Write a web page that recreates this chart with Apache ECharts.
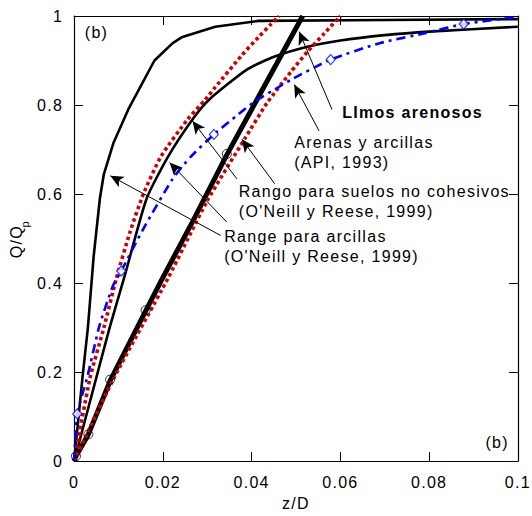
<!DOCTYPE html>
<html><head><meta charset="utf-8">
<script src="https://cdn.jsdelivr.net/npm/echarts@6/dist/echarts.min.js"></script>
<style>
html,body{margin:0;padding:0;background:#fff}
#c{width:532px;height:516px}
#c text{letter-spacing:1.3px}
</style>
</head><body><div id="c"></div>
<script>
// ---- data (z/D, Q/Qp) ----
const xTicks = [0, 0.02, 0.04, 0.06, 0.08, 0.1];
const yTicks = [0, 0.2, 0.4, 0.6, 0.8, 1];

// Range para arcillas (O'Neill y Reese, 1999) - upper bound
const clayUpper = [[0,0],[0.0019,0.19],[0.0031,0.30],[0.0044,0.46],[0.0058,0.59],[0.0067,0.645],[0.0089,0.716],[0.0122,0.79],[0.0181,0.90],[0.0222,0.939],[0.0244,0.953],[0.0318,0.976],[0.0415,0.989],[0.07,0.991],[0.1,0.993]];
// Range para arcillas - lower bound
const clayLower = [[0,0],[0.005,0.1875],[0.008,0.30],[0.0115,0.42],[0.0163,0.589],[0.0211,0.683],[0.0267,0.768],[0.0304,0.812],[0.039,0.88],[0.0452,0.909],[0.0526,0.931],[0.06,0.945],[0.07,0.957],[0.08,0.965],[0.1,0.976]];
// Rango para suelos no cohesivos - upper bound
const sandUpper = [[0,0],[0.0036,0.1875],[0.0067,0.30],[0.0095,0.41],[0.0126,0.515],[0.0156,0.60],[0.0196,0.685],[0.0256,0.768],[0.0296,0.8125],[0.0318,0.840],[0.0378,0.912],[0.0415,0.952],[0.0444,0.982],[0.0462,1.0]];
// Rango para suelos no cohesivos - lower bound
const sandLower = [[0,0],[0.009,0.1875],[0.0211,0.41],[0.030,0.585],[0.0385,0.725],[0.0435,0.805],[0.0489,0.875],[0.0526,0.92],[0.0563,0.96],[0.06,1.0]];
// Arenas y arcillas (API, 1993)
const apiCurve = [[0,0],[0.0007,0.106],[0.003,0.19],[0.0056,0.30],[0.0087,0.393],[0.0106,0.427],[0.0156,0.522],[0.0222,0.634],[0.0262,0.683],[0.0315,0.734],[0.037,0.779],[0.0407,0.808],[0.0452,0.835],[0.0489,0.857],[0.0578,0.902],[0.0689,0.939],[0.0793,0.962],[0.0878,0.982],[0.1,0.998]];
const apiMarkers = [[0.0007,0.106],[0.0106,0.427],[0.0315,0.734],[0.0578,0.902],[0.0878,0.982]];
// LImos arenosos
const siltySand = [[0,0],[0.0004,0.011],[0.0032,0.06],[0.0081,0.18],[0.0161,0.337],[0.0196,0.405],[0.0267,0.538],[0.0344,0.688],[0.0411,0.81],[0.0515,1.0]];
const siltyMarkers = [[0.0004,0.011],[0.0032,0.06],[0.0081,0.183],[0.0161,0.339],[0.0344,0.69]];

// annotation texts and anchors (data coords)
const labelTexts = ['LImos arenosos','Arenas y arcillas','(API, 1993)','Rango para suelos no cohesivos',"(O'Neill y Reese, 1999)",'Range para arcillas',"(O'Neill y Reese, 1999)",'(b)','(b)'];
const labelAnchors = [[0.0604,0.7835],[0.0496,0.7165],[0.0496,0.6719],[0.0371,0.6049],[0.0371,0.5603],[0.0338,0.5045],[0.0338,0.4598],[0.0024,0.963],[0.0927,0.0424]];
const labelBold = [true,false,false,false,false,false,false,false,false];
// arrows: [tail, tip]
const arrows = [
  [[0.0581,0.790],[0.0507,0.965]],
  [[0.0552,0.742],[0.0496,0.846]],
  [[0.0452,0.623],[0.0378,0.723]],
  [[0.0367,0.634],[0.02667,0.764]],
  [[0.0344,0.537],[0.0215,0.671]],
  [[0.0330,0.507],[0.00815,0.641]]
];

const FONT = '"Liberation Sans", Arial, Helvetica, sans-serif';
const chart = echarts.init(document.getElementById('c'), null, {renderer:'svg'});

function axisCommon(showLabel){
  return {
    axisLine:{show:true,onZero:false,lineStyle:{color:'#000',width:1.2}},
    axisTick:{show:true,inside:true,length:9,lineStyle:{color:'#000',width:1}},
    axisLabel:{show:showLabel,color:'#000',fontSize:16,fontFamily:FONT},
    splitLine:{show:false}
  };
}
const xa = Object.assign({type:'value',min:xTicks[0],max:xTicks[xTicks.length-1],interval:xTicks[1]-xTicks[0]}, axisCommon(true));
xa.axisLabel.margin = 13;
xa.name = 'z/D'; xa.nameLocation='middle'; xa.nameGap=30;
xa.nameTextStyle = {color:'#000',fontSize:16,fontFamily:FONT};
const xa2 = Object.assign({type:'value',position:'top',min:xTicks[0],max:xTicks[xTicks.length-1],interval:xTicks[1]-xTicks[0]}, axisCommon(false));
const ya = Object.assign({type:'value',min:yTicks[0],max:yTicks[yTicks.length-1],interval:yTicks[1]-yTicks[0]}, axisCommon(true));
ya.axisLabel.margin = 11;
ya.name = '{a|Q/Q}{b|p}'; ya.nameLocation='middle'; ya.nameGap=30;
ya.nameTextStyle = {color:'#000',fontSize:16,fontFamily:FONT,rich:{a:{fontSize:16,fontFamily:FONT,color:'#000',lineHeight:22,verticalAlign:'top'},b:{fontSize:11,fontFamily:FONT,color:'#000',lineHeight:22,verticalAlign:'bottom',padding:[10,0,0,0]}}};
const ya2 = Object.assign({type:'value',position:'right',min:yTicks[0],max:yTicks[yTicks.length-1],interval:yTicks[1]-yTicks[0]}, axisCommon(false));

function lineSeries(name,data,color,width,dash,smooth){
  return {name,type:'line',data,symbol:'none',showSymbol:false,silent:true,
    smooth:smooth||false,
    lineStyle:{color,width,type:dash||'solid',cap:'butt',join:'round'},z:2};
}

const arrowMark = {
  silent:true, symbol:['none','arrow'], symbolSize:[9,13], label:{show:false},
  lineStyle:{color:'#000',width:1,type:'solid'}, emphasis:{disabled:true},
  data: arrows.map(a=>[{coord:a[0]},{coord:a[1]}])
};

const series = [
  lineSeries('clayUpper',clayUpper,'#000',2.6,null,false),
  lineSeries('clayLower',clayLower,'#000',2.6,null,0.2),
  Object.assign(lineSeries('siltySand',siltySand,'#000',5,null,false),{markLine:arrowMark}),
  lineSeries('sandLower',sandLower,'#cc0000',3.6,[3.5,3],0.2),
  lineSeries('sandUpper',sandUpper,'#cc0000',3.6,[3.5,3],0.2),
  lineSeries('api',apiCurve,'#0000ff',2.6,[9,5,3,5],0.2),
  {type:'scatter',data:siltyMarkers,symbol:'circle',symbolSize:9,silent:true,z:4,
   itemStyle:{color:'rgba(255,255,255,0)',borderColor:'#000',borderWidth:1}},
  {type:'scatter',data:apiMarkers,symbol:'diamond',symbolSize:[9,10],silent:true,z:4,
   itemStyle:{color:'#fff',borderColor:'#0000ff',borderWidth:1.2}}
];

chart.setOption({
  animation:false,
  backgroundColor:'#fff',
  grid:{left:70,right:12,top:16,bottom:52,containLabel:false},
  xAxis:[xa,xa2],
  yAxis:[ya,ya2],
  series
});

const graphics = labelTexts.map((t,i)=>{
  const p = chart.convertToPixel({xAxisIndex:0,yAxisIndex:0}, labelAnchors[i]);
  return {type:'text',x:p[0],y:p[1],silent:true,z:10,
    style:{text:t,fill:'#000',fontSize:16,fontFamily:FONT,fontWeight:labelBold[i]?'bold':'normal',align:'left',verticalAlign:'middle'}};
});
chart.setOption({graphic:graphics});
</script></body></html>
